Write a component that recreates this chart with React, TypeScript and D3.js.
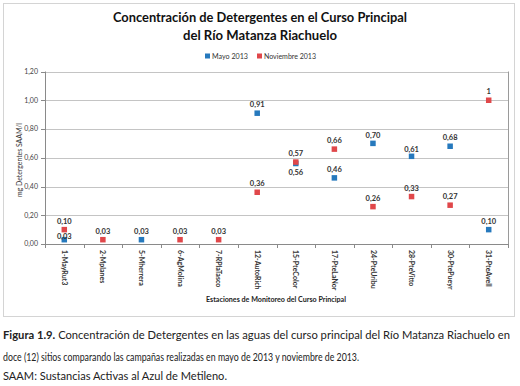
import React from "react";
import * as d3 from "d3";

const categories = [
  "1-MayRut3", "2-Mplanes", "5-Mherrera", "6-AgMolina", "7-RPlaTasco", "12-AutoRich",
  "15-PteColor", "17-PteLaNor", "24-PteUribu", "28-PteVitto", "30-PtePueyr", "31-PteAvell",
];
const mayo: (number | null)[] = [0.03, null, 0.03, null, null, 0.91, 0.56, 0.46, 0.7, 0.61, 0.68, 0.1];
const noviembre: (number | null)[] = [0.1, 0.03, null, 0.03, 0.03, 0.36, 0.57, 0.66, 0.26, 0.33, 0.27, 1];
const mayoLabels = ["0,03", "", "0,03", "", "", "0,91", "0,56", "0,46", "0,70", "0,61", "0,68", "0,10"];
const novLabels = ["0,10", "0,03", "", "0,03", "0,03", "0,36", "0,57", "0,66", "0,26", "0,33", "0,27", "1"];
const yTicks = [0, 0.2, 0.4, 0.6, 0.8, 1.0, 1.2];
const yTickLabels = ["0,00", "0,20", "0,40", "0,60", "0,80", "1,00", "1,20"];
const seriesNames = ["Mayo 2013", "Noviembre 2013"];

const BLUE = "#2679bd";
const RED = "#e0474a";
const FONT = "Lato, 'Open Sans', sans-serif";

export default function App() {
  const left = 45, right = 508, top = 71.5, bottom = 244;
  const x = d3.scaleBand<string>().domain(categories).range([left, right]);
  const y = d3.scaleLinear().domain([0, 1.2]).range([bottom, top]);
  const cx = (c: string) => (x(c) as number) + x.bandwidth() / 2;

  const series = [
    { name: seriesNames[0], values: mayo, labels: mayoLabels, color: BLUE, key: "m" },
    { name: seriesNames[1], values: noviembre, labels: novLabels, color: RED, key: "n" },
  ];

  const labelOffset = (key: string, i: number) => {
    if (key === "m" && i === 6) return 9;
    if (key === "m" && i === 0) return -3.5;
    if (key === "m" && i === 9) return -6.5;
    return -8.5;
  };

  return (
    <svg width={520} height={386} style={{ position: "absolute", left: 0, top: 0, background: "#fff" }}
      fontFamily={FONT}>
      <rect x={0} y={0} width={520} height={386} fill="#fff" />
      <rect x={3.5} y={3.5} width={511} height={313} fill="#fff" stroke="#d4d4d4" />
      {/* Title */}
      <text x={260} y={22} textAnchor="middle" fontWeight="bold" fontSize={13} fill="#111"
        textLength={294} lengthAdjust="spacingAndGlyphs">
        Concentración de Detergentes en el Curso Principal
      </text>
      <text x={260} y={40} textAnchor="middle" fontWeight="bold" fontSize={13} fill="#111"
        textLength={154} lengthAdjust="spacingAndGlyphs">
        del Río Matanza Riachuelo
      </text>
      {/* Legend */}
      <rect x={205} y={53.5} width={5} height={5} fill={BLUE} />
      <text x={212} y={58.5} fontSize={7.5} fill="#333" textLength={36} lengthAdjust="spacingAndGlyphs">{seriesNames[0]}</text>
      <rect x={257} y={53.5} width={5} height={5} fill={RED} />
      <text x={264} y={58.5} fontSize={7.5} fill="#333" textLength={52} lengthAdjust="spacingAndGlyphs">{seriesNames[1]}</text>

      {/* Grid */}
      {yTicks.map((t, i) => (
        <g key={i}>
          <line x1={left} x2={right} y1={Math.round(y(t)) + 0.5} y2={Math.round(y(t)) + 0.5}
            stroke={i === 0 ? "#8a8a8a" : "#c4c4c4"} />
          <line x1={left - 4} x2={left} y1={Math.round(y(t)) + 0.5} y2={Math.round(y(t)) + 0.5} stroke="#8a8a8a" />
          <text x={38} y={y(t)} dy="0.35em" textAnchor="end" fontSize={7} fill="#444">{yTickLabels[i]}</text>
        </g>
      ))}
      <line x1={right + 0.5} x2={right + 0.5} y1={top} y2={bottom} stroke="#9a9a9a" />
      <line x1={left + 0.5} x2={left + 0.5} y1={top} y2={bottom + 0.5} stroke="#8a8a8a" />
      {d3.range(categories.length + 1).map((i) => {
        const xx = Math.round(left + i * x.step()) + 0.5;
        return <line key={i} x1={xx} x2={xx} y1={bottom} y2={bottom + 4} stroke="#8a8a8a" />;
      })}

      {/* Axis titles */}
      <text transform={`translate(22,160) rotate(-90)`} textAnchor="middle" fontSize={7.5} fill="#333"
        textLength={74} lengthAdjust="spacingAndGlyphs">mg Detergentes SAAM/l</text>
      <text x={276} y={302} textAnchor="middle" fontSize={7.5} fontWeight="bold" fill="#222"
        textLength={140} lengthAdjust="spacingAndGlyphs">Estaciones de Monitoreo del Curso Principal</text>

      {/* X labels */}
      {categories.map((c) => (
        <text key={c} transform={`translate(${cx(c)},${bottom + 6}) rotate(90)`} dy="0.35em" fontSize={7}
          fontWeight="bold" fill="#333">{c}</text>
      ))}

      {/* Points */}
      {series.map((s) => (
        <g key={s.key}>
          {s.values.map((v, i) =>
            v == null ? null : (
              <rect key={i} x={cx(categories[i]) - 2.75} y={y(v) - 2.75} width={5.5} height={5.5} fill={s.color} />
            )
          )}
        </g>
      ))}
      {series.map((s) => (
        <g key={s.key + "l"}>
          {s.values.map((v, i) =>
            v == null || !s.labels[i] ? null : (
              <text key={i} x={cx(categories[i])} y={y(v) + labelOffset(s.key, i)} dy="0.35em" textAnchor="middle"
                fontSize={7.5} fontWeight="bold" fill="#333">{s.labels[i]}</text>
            )
          )}
        </g>
      ))}

      {/* Caption */}
      <text x={3} y={339} fontSize={10.5} fill="#222" textLength={507} lengthAdjust="spacingAndGlyphs">
        <tspan fontWeight="bold">Figura 1.9.</tspan> Concentración de Detergentes en las aguas del curso principal del Río Matanza Riachuelo en
      </text>
      <text x={3} y={361} fontSize={10.5} fill="#222" textLength={356} lengthAdjust="spacingAndGlyphs">
        doce (12) sitios comparando las campañas realizadas en mayo de 2013 y noviembre de 2013.
      </text>
      <text x={3} y={380} fontSize={10.5} fill="#222" textLength={224} lengthAdjust="spacingAndGlyphs">
        SAAM: Sustancias Activas al Azul de Metileno.
      </text>
    </svg>
  );
}
